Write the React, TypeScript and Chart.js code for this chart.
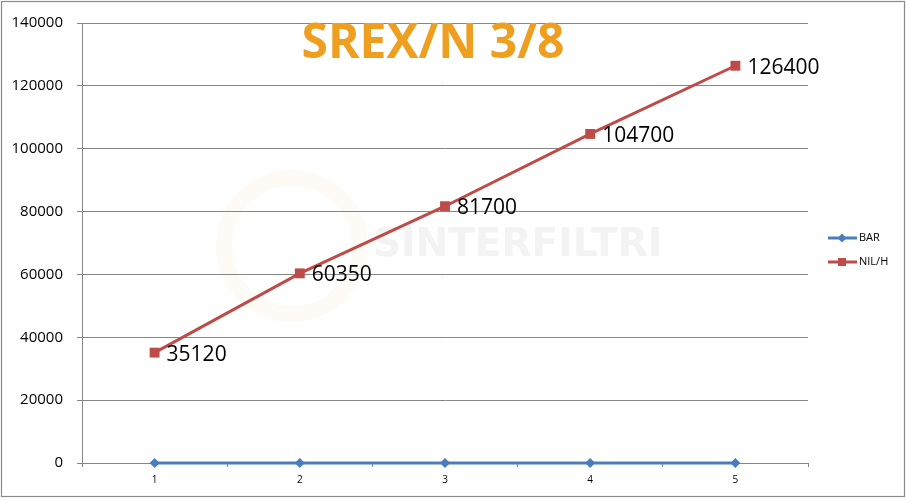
import React, { useEffect, useRef } from "react";
import { Chart, registerables } from "chart.js";

Chart.register(...registerables);

const categories = ["1", "2", "3", "4", "5"];
const barValues = [0, 0, 0, 0, 0];
const nilhValues = [35120, 60350, 81700, 104700, 126400];
const yTicks = { min: 0, max: 140000, step: 20000 };
const seriesNames = ["BAR", "NIL/H"];
const titleText = "SREX/N 3/8";
const watermarkText = "SINTERFILTRI";

const BLUE = "#4A7EBB";
const RED = "#BE4B48";
const GRID = "#868686";
const FONT = "'Open Sans', 'Liberation Sans', sans-serif";

const decorPlugin = {
  id: "decor",
  beforeDraw(chart: any) {
    const ctx = chart.ctx;
    ctx.save();
    ctx.fillStyle = "#ffffff";
    ctx.fillRect(0, 0, chart.width, chart.height);
    // faint watermark
    ctx.strokeStyle = "rgba(250,225,190,0.14)";
    ctx.lineWidth = 16;
    ctx.beginPath();
    ctx.arc(292, 246, 68, 0, Math.PI * 2);
    ctx.stroke();
    ctx.fillStyle = "#f3f3f3";
    ctx.font = `bold 39px 'DejaVu Sans', sans-serif`;
    ctx.textBaseline = "middle";
    ctx.textAlign = "left";
    ctx.fillText(watermarkText, 373, 246);
    ctx.restore();
  },
  afterDatasetsDraw(chart: any) {
    const ctx = chart.ctx;
    ctx.save();
    // data labels for NIL/H
    const meta = chart.getDatasetMeta(1);
    ctx.fillStyle = "#000000";
    ctx.font = `21px ${FONT}`;
    ctx.textBaseline = "middle";
    ctx.textAlign = "left";
    meta.data.forEach((pt: any, i: number) => {
      ctx.fillText(String(nilhValues[i]), pt.x + 12, pt.y + 2);
    });
    // title
    const ca = chart.chartArea;
    ctx.fillStyle = "#EE9F1F";
    ctx.font = `bold 48px ${FONT}`;
    ctx.textAlign = "center";
    ctx.textBaseline = "alphabetic";
    ctx.fillText(titleText, (ca.left + ca.right) / 2 - 12, 58);
    // legend
    const items = [
      { name: seriesNames[0], color: BLUE, style: "diamond", y: 238 },
      { name: seriesNames[1], color: RED, style: "square", y: 262 },
    ];
    items.forEach((it) => {
      ctx.strokeStyle = it.color;
      ctx.fillStyle = it.color;
      ctx.lineWidth = 3;
      ctx.beginPath();
      ctx.moveTo(828, it.y);
      ctx.lineTo(857, it.y);
      ctx.stroke();
      ctx.beginPath();
      if (it.style === "diamond") {
        ctx.moveTo(842, it.y - 4.5);
        ctx.lineTo(846.5, it.y);
        ctx.lineTo(842, it.y + 4.5);
        ctx.lineTo(837.5, it.y);
        ctx.closePath();
      } else {
        ctx.rect(838, it.y - 4, 8, 8);
      }
      ctx.fill();
      ctx.fillStyle = "#000000";
      ctx.font = `11px ${FONT}`;
      ctx.textAlign = "left";
      ctx.textBaseline = "middle";
      ctx.fillText(it.name, 859, it.y);
    });
    ctx.restore();
  },
  afterDraw(chart: any) {
    const ctx = chart.ctx;
    ctx.save();
    ctx.strokeStyle = "#8a8a8a";
    ctx.lineWidth = 1.2;
    ctx.strokeRect(1.5, 1.5, 903, 495);
    ctx.restore();
  },
};

export default function App() {
  const ref = useRef<HTMLCanvasElement | null>(null);

  useEffect(() => {
    if (!ref.current) return;
    const chart = new Chart(ref.current, {
      type: "line",
      data: {
        labels: categories,
        datasets: [
          {
            label: seriesNames[0],
            data: barValues,
            borderColor: BLUE,
            backgroundColor: BLUE,
            borderWidth: 3,
            pointStyle: "rectRot",
            pointRadius: 5,
            pointBorderWidth: 0,
            pointBackgroundColor: BLUE,
            tension: 0,
            clip: false as any,
          },
          {
            label: seriesNames[1],
            data: nilhValues,
            borderColor: RED,
            backgroundColor: RED,
            borderWidth: 3,
            pointStyle: "rect",
            pointRadius: 7,
            pointBorderWidth: 0,
            pointBackgroundColor: RED,
            tension: 0,
            clip: false as any,
          },
        ],
      },
      options: {
        responsive: false,
        animation: false,
        layout: { padding: { top: 20, right: 98, left: 0, bottom: 0 } },
        plugins: {
          legend: { display: false },
          title: { display: false },
          tooltip: { enabled: false },
        },
        scales: {
          x: {
            type: "category",
            offset: true,
            grid: {
              offset: true,
              drawOnChartArea: false,
              drawTicks: true,
              tickLength: 4,
              color: GRID,
            },
            border: { color: GRID, width: 1 },
            ticks: {
              color: "#000000",
              font: { size: 10, family: FONT },
              padding: 7,
            },
            afterFit: (s: any) => {
              s.height = 37;
            },
          },
          y: {
            min: yTicks.min,
            max: yTicks.max,
            ticks: {
              stepSize: yTicks.step,
              color: "#000000",
              font: { size: 15, family: FONT },
              padding: 14,
              callback: (v: any) => String(v),
            },
            grid: { color: GRID, tickLength: 5, lineWidth: 1 },
            border: { color: GRID, width: 1 },
            afterFit: (s: any) => {
              s.width = 82;
            },
          },
        },
      },
      plugins: [decorPlugin],
    });
    return () => chart.destroy();
  }, []);

  return (
    <div style={{ position: "absolute", left: 0, top: 0, width: 906, height: 500 }}>
      <canvas ref={ref} width={906} height={500} style={{ width: 906, height: 500 }} />
    </div>
  );
}
